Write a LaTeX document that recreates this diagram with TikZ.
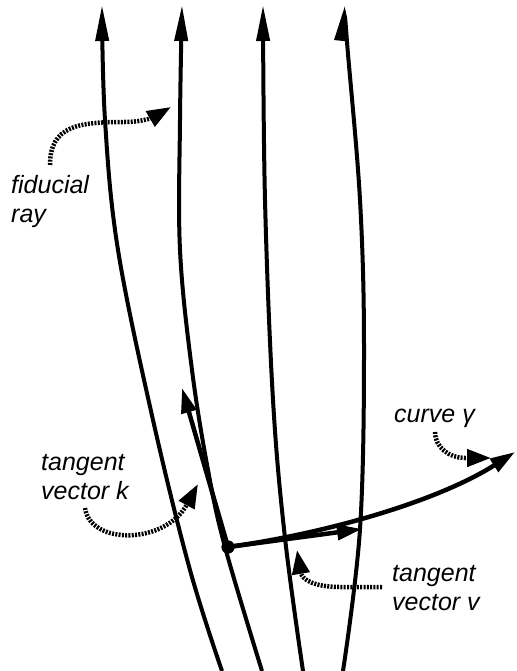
\documentclass[tikz,border=0pt]{standalone}
\usepackage{fontspec}
\setmainfont{Liberation Sans}
\usetikzlibrary{arrows.meta}
\begin{document}
\begin{tikzpicture}[x=1pt,y=-1pt,
  ray/.style={line width=4pt, -{Triangle[length=36pt,width=13pt]}},
  vec/.style={line width=4.5pt, -{Triangle[length=25pt,width=15pt]}},
  pointer/.style={line width=4.5pt, dash pattern=on 2pt off 1.3pt, -{Triangle[length=24pt,width=17pt]}},
  lbl/.style={font=\fontsize{25}{28.5}\selectfont\itshape, align=left, anchor=base west, inner sep=0pt}]
\useasboundingbox (0,0) rectangle (516,671);

% rays
\draw[ray] plot[smooth, tension=0.6] coordinates {(222,671) (190,570) (153,420) (118,250) (105,120) (102,5)};
\draw[ray] plot[smooth, tension=0.6] coordinates {(262,671) (225,547) (208,470) (192,370) (180,250) (180,120) (182,5)};
\draw[ray] plot[smooth, tension=0.6] coordinates {(303,671) (285,538) (273,400) (265,200) (263,5)};
\draw[ray] plot[smooth, tension=0.6] coordinates {(343,671) (360,529) (364,350) (360,200) (347,42) (345,5)};

% point and vectors
\node[circle, fill, inner sep=0pt, minimum size=13pt] (dot) at (228,547) {};
\coordinate (ktip) at (182,388);
\coordinate (vtip) at (362,529);
\coordinate (gtip) at (515,452);
\draw[vec] (dot.center) -- (ktip);
\draw[vec] (dot.center) -- (vtip);
\draw[vec] (dot.center) .. controls (330,533) and (440,500) .. (gtip);
\node[circle, fill, inner sep=0pt, minimum size=13pt] at (dot) {};

% labels (anchor = baseline of last line)
\node[lbl] (fid) at (11,222) {fiducial\\ray};
\node[lbl] (tk) at (41,499) {tangent\\vector k};
\node[lbl] (tv) at (392,610) {tangent\\vector v};
\node[lbl] (cg) at (394,422) {curve γ};

% pointers
\coordinate (fidS) at (50,165);
\coordinate (fidT) at (171,107);
\draw[pointer] (fidS) .. controls (50,125) and (80,122) .. (125,122) to[out=0,in=-150] (fidT);
\coordinate (tkS) at (85,508);
\coordinate (tkT) at (198,484);
\draw[pointer] (tkS) .. controls (90,545) and (165,545) .. (tkT);
\coordinate (tvS) at (382,587);
\coordinate (tvT) at (297,550);
\draw[pointer] (tvS) -- (340,587) .. controls (315,587) and (302,580) .. (tvT);
\coordinate (cgS) at (435,432);
\coordinate (cgT) at (491,458);
\draw[pointer] (cgS) to[out=-90,in=180] (465,458) -- (cgT);
\end{tikzpicture}
\end{document}
